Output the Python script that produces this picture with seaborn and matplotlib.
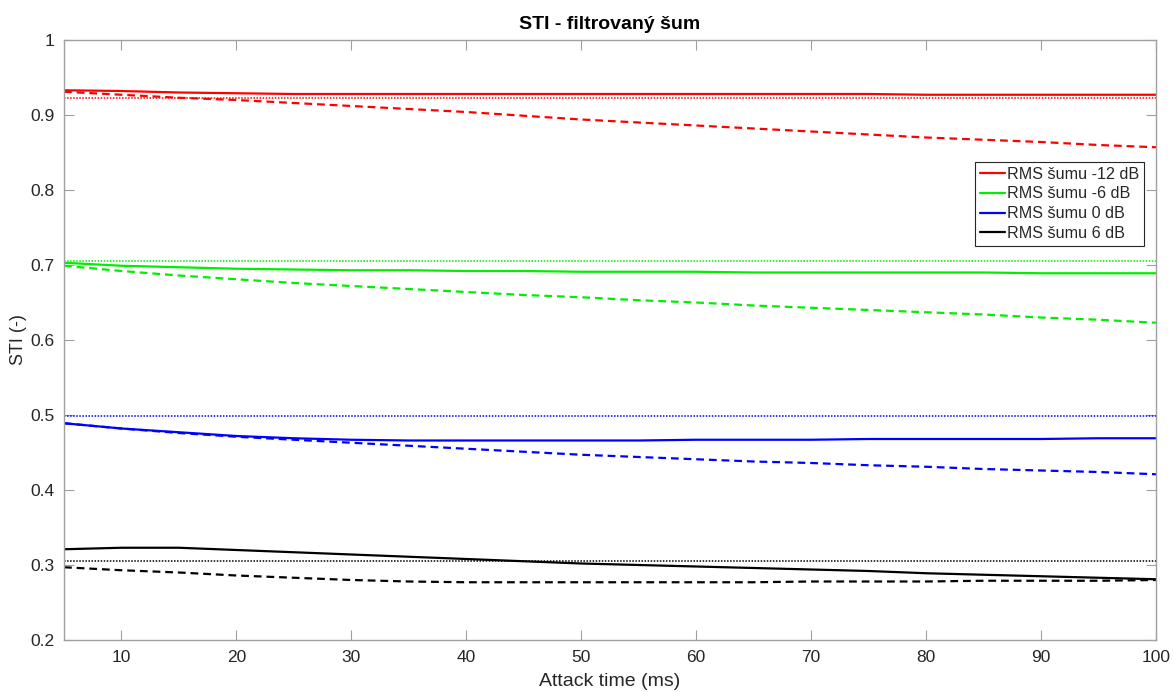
import matplotlib
matplotlib.use("Agg")
import matplotlib.pyplot as plt
import seaborn as sns
import numpy as np

# ---- data ----
attack_ms = [5, 10, 15, 20, 25, 30, 35, 40, 45, 50, 55, 60, 65, 70, 75, 80, 85, 90, 95, 100]

red_solid = [0.933, 0.932, 0.930, 0.929, 0.928, 0.928, 0.928, 0.928, 0.928, 0.928,
             0.928, 0.928, 0.928, 0.928, 0.928, 0.927, 0.927, 0.927, 0.927, 0.927]
red_dashed = [0.931, 0.927, 0.923, 0.920, 0.916, 0.912, 0.908, 0.904, 0.899, 0.894,
              0.890, 0.886, 0.882, 0.878, 0.874, 0.870, 0.867, 0.864, 0.860, 0.857]
red_dotted = 0.923

green_solid = [0.703, 0.699, 0.697, 0.695, 0.694, 0.693, 0.693, 0.692, 0.692, 0.691,
               0.691, 0.691, 0.690, 0.690, 0.690, 0.690, 0.690, 0.689, 0.689, 0.689]
green_dashed = [0.699, 0.692, 0.686, 0.681, 0.676, 0.672, 0.668, 0.664, 0.660, 0.657,
                0.653, 0.650, 0.646, 0.643, 0.640, 0.637, 0.634, 0.630, 0.627, 0.623]
green_dotted = 0.705

blue_solid = [0.489, 0.482, 0.477, 0.472, 0.469, 0.467, 0.466, 0.466, 0.466, 0.466,
              0.466, 0.467, 0.467, 0.467, 0.468, 0.468, 0.468, 0.468, 0.469, 0.469]
blue_dashed = [0.489, 0.482, 0.476, 0.471, 0.467, 0.463, 0.459, 0.455, 0.451, 0.447,
               0.444, 0.441, 0.438, 0.436, 0.433, 0.431, 0.428, 0.426, 0.424, 0.421]
blue_dotted = 0.499

black_solid = [0.321, 0.323, 0.323, 0.320, 0.317, 0.314, 0.311, 0.308, 0.305, 0.302,
               0.300, 0.298, 0.296, 0.294, 0.292, 0.289, 0.287, 0.285, 0.283, 0.281]
black_dashed = [0.297, 0.293, 0.290, 0.286, 0.283, 0.280, 0.278, 0.277, 0.277, 0.277,
                0.277, 0.277, 0.277, 0.278, 0.278, 0.278, 0.279, 0.279, 0.279, 0.280]
black_dotted = 0.306

legend_labels = ["RMS šumu -12 dB", "RMS šumu -6 dB", "RMS šumu 0 dB", "RMS šumu 6 dB"]
colors = ["#ff0000", "#00ee00", "#0000ff", "#000000"]

sns.set_theme(style="white")
plt.rcParams['font.family'] = ['Liberation Sans', 'DejaVu Sans']

fig = plt.figure(figsize=(11.74, 6.92), dpi=100)
ax = fig.add_axes([64 / 1174, 52 / 692, 1092 / 1174, 600 / 692])

solids = [red_solid, green_solid, blue_solid, black_solid]
dashes = [red_dashed, green_dashed, blue_dashed, black_dashed]
dots = [red_dotted, green_dotted, blue_dotted, black_dotted]

for s, lab, c in zip(solids, legend_labels, colors):
    sns.lineplot(x=attack_ms, y=s, color=c, lw=1.6, ax=ax, label=lab)
for d, c in zip(dashes, colors):
    sns.lineplot(x=attack_ms, y=d, color=c, lw=1.6, ax=ax)
    ax.lines[-1].set_linestyle((0, (3.5, 2.2)))
for v, c in zip(dots, colors):
    ax.axhline(v, color=c, lw=1.1, linestyle=(0, (1, 1)))

ax.set_xlim(5, 100)
ax.set_ylim(0.2, 1.0)
ax.set_xticks([10, 20, 30, 40, 50, 60, 70, 80, 90, 100])
ax.set_yticks([0.2, 0.3, 0.4, 0.5, 0.6, 0.7, 0.8, 0.9, 1.0])
ax.set_yticklabels(["0.2", "0.3", "0.4", "0.5", "0.6", "0.7", "0.8", "0.9", "1"])

ax.tick_params(direction="in", length=7, width=0.8, colors="#a0a0a0",
               labelcolor="#262626", labelsize=12.5, top=True, right=True,
               bottom=True, left=True, pad=7)
for sp in ax.spines.values():
    sp.set_visible(True)
    sp.set_color("#a0a0a0")
    sp.set_linewidth(1.0)

ax.set_title("STI - filtrovaný šum", fontsize=14, fontweight="bold", color="#000000", pad=8)
ax.set_xlabel("Attack time (ms)", fontsize=14, color="#262626", labelpad=6)
ax.set_ylabel("STI (-)", fontsize=13, color="#262626", labelpad=2)

leg = ax.legend(loc="upper right", bbox_to_anchor=(0.989, 0.797), fontsize=11.6,
                handlelength=1.6, handletextpad=0.1, borderpad=0.3, labelspacing=0.3,
                fancybox=False, framealpha=1, edgecolor="#262626", borderaxespad=0)
leg.get_frame().set_linewidth(0.8)

fig.savefig("out.png", dpi=100)
